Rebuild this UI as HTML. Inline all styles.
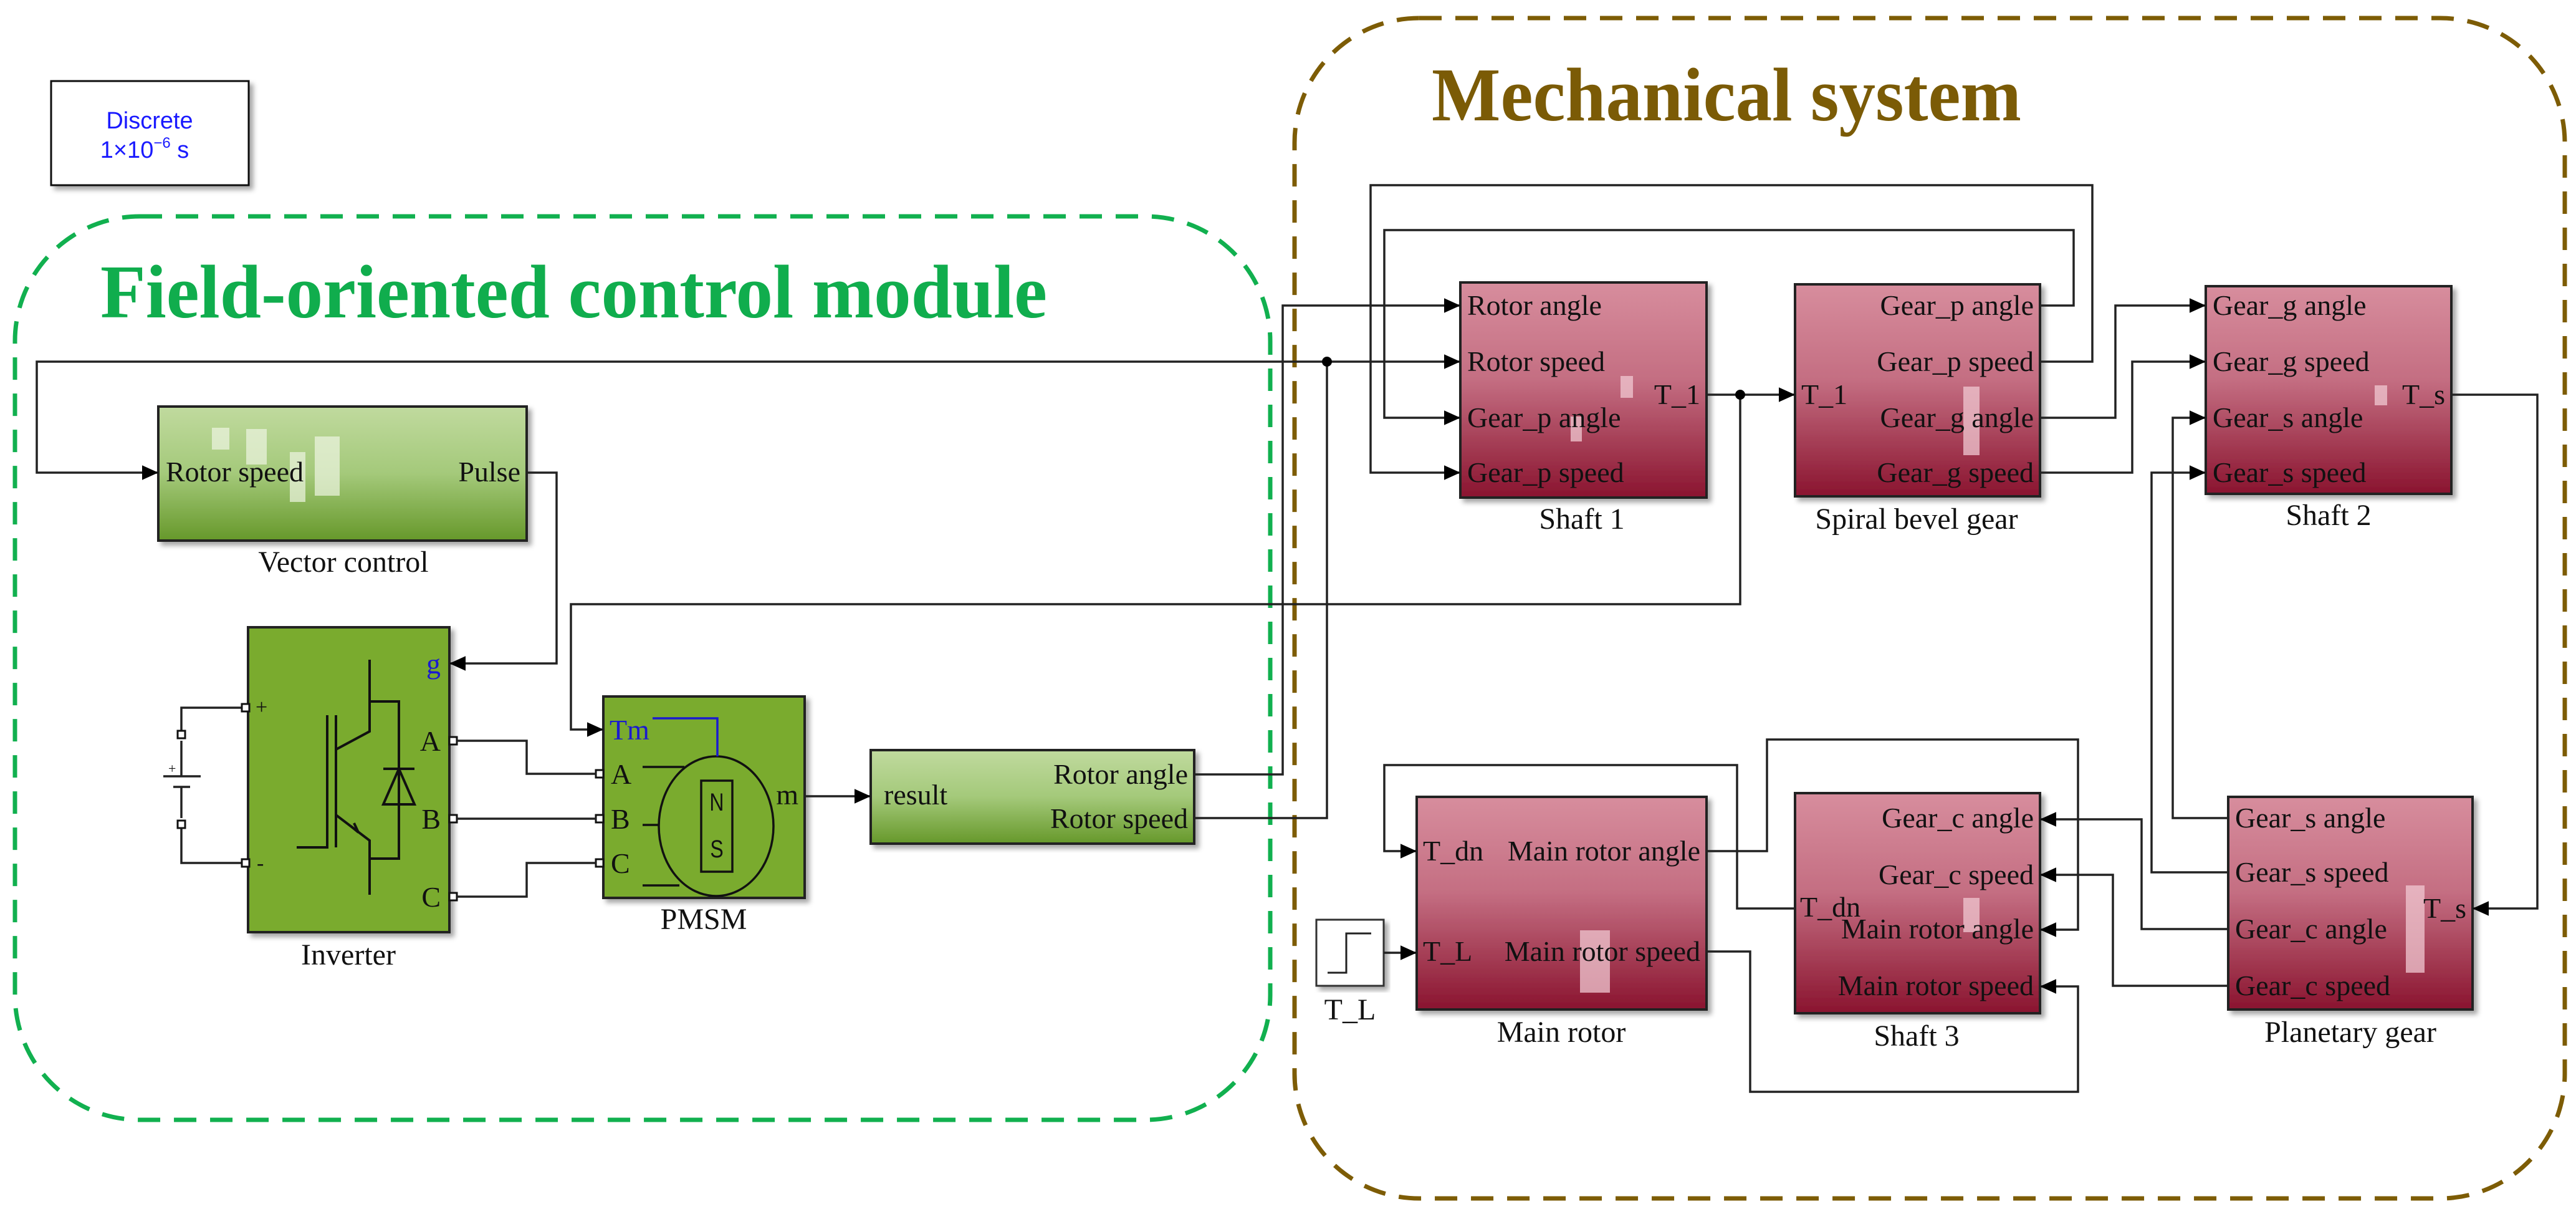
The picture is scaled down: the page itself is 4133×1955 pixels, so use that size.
<!DOCTYPE html>
<html><head><meta charset="utf-8"><style>
html,body{margin:0;padding:0;background:#fff;}
svg{display:block;}
.t{font-family:"Liberation Serif",serif;fill:#111;}
.w{fill:none;stroke:#222;stroke-width:3.5;}
</style></head><body>
<svg width="4133" height="1955" viewBox="0 0 4133 1955" xmlns="http://www.w3.org/2000/svg">
<defs>
<linearGradient id="red" x1="0" y1="0" x2="0" y2="1">
<stop offset="0" stop-color="#d78d9d"/><stop offset="0.45" stop-color="#c46e82"/><stop offset="1" stop-color="#8a142f"/></linearGradient>
<linearGradient id="grn" x1="0" y1="0" x2="0" y2="1">
<stop offset="0" stop-color="#c0da9e"/><stop offset="0.5" stop-color="#a4c97a"/><stop offset="1" stop-color="#66982a"/></linearGradient>
<marker id="a" viewBox="0 0 10 10" refX="10" refY="5" markerWidth="26" markerHeight="26" orient="auto" markerUnits="userSpaceOnUse">
<path d="M0,0.5 L10,5 L0,9.5 z" fill="#000"/></marker>
<filter id="sh" x="-5%" y="-5%" width="115%" height="115%"><feDropShadow dx="6" dy="6" stdDeviation="4" flood-color="#000" flood-opacity="0.35"/></filter>
</defs>

<!-- Discrete -->
<rect x="82" y="130" width="317" height="167" fill="#fff" stroke="#111" stroke-width="3" filter="url(#sh)"/>
<text x="240" y="206" font-family="Liberation Sans,sans-serif" font-size="38" fill="#1a1aff" text-anchor="middle">Discrete</text>
<text x="232" y="253" font-family="Liberation Sans,sans-serif" font-size="38" fill="#1a1aff" text-anchor="middle">1×10<tspan font-size="24" dy="-16">−6</tspan><tspan dy="16"> s</tspan></text>

<!-- dashed containers -->
<rect x="24" y="347" width="2014" height="1449" rx="200" fill="none" stroke="#11b04f" stroke-width="7" stroke-dasharray="36,22"/>
<rect x="2077" y="29" width="2038" height="1893" rx="200" fill="none" stroke="#7d5c05" stroke-width="7" stroke-dasharray="36,22"/>
<text x="161" y="509" font-family="Liberation Serif,serif" font-weight="bold" font-size="122" fill="#10ad4d" textLength="1519" lengthAdjust="spacingAndGlyphs">Field-oriented control module</text>
<text x="2297" y="193" font-family="Liberation Serif,serif" font-weight="bold" font-size="122" fill="#7b5b06" textLength="946" lengthAdjust="spacingAndGlyphs">Mechanical system</text>

<!-- blocks -->
<rect x="254" y="652" width="591" height="215" fill="url(#grn)" stroke="#222" stroke-width="4" filter="url(#sh)"/>
<g fill="#eef5e2" opacity="0.7"><rect x="340" y="686" width="28" height="35"/><rect x="395" y="688" width="33" height="57"/><rect x="465" y="725" width="25" height="80"/><rect x="505" y="700" width="40" height="95"/></g>
<rect x="398" y="1006" width="323" height="489" fill="#7aab2e" stroke="#222" stroke-width="4" filter="url(#sh)"/>
<rect x="968" y="1117" width="323" height="323" fill="#7aab2e" stroke="#222" stroke-width="4" filter="url(#sh)"/>
<rect x="1397" y="1203" width="519" height="150" fill="url(#grn)" stroke="#222" stroke-width="4" filter="url(#sh)"/>

<rect x="2343" y="453" width="395" height="345" fill="url(#red)" stroke="#222" stroke-width="4" filter="url(#sh)"/>
<rect x="2880" y="456" width="393" height="340" fill="url(#red)" stroke="#222" stroke-width="4" filter="url(#sh)"/>
<rect x="3539" y="459" width="394" height="333" fill="url(#red)" stroke="#222" stroke-width="4" filter="url(#sh)"/>
<rect x="2273" y="1278" width="465" height="341" fill="url(#red)" stroke="#222" stroke-width="4" filter="url(#sh)"/>
<rect x="2880" y="1272" width="393" height="353" fill="url(#red)" stroke="#222" stroke-width="4" filter="url(#sh)"/>
<rect x="3575" y="1278" width="392" height="341" fill="url(#red)" stroke="#222" stroke-width="4" filter="url(#sh)"/>
<g fill="#f0c8d2" opacity="0.75">
<rect x="2600" y="603" width="20" height="35"/><rect x="2520" y="668" width="18" height="40"/>
<rect x="3150" y="620" width="26" height="110"/>
<rect x="3810" y="618" width="20" height="32"/><rect x="2535" y="1492" width="48" height="100"/><rect x="3150" y="1440" width="26" height="55"/><rect x="3860" y="1420" width="30" height="140"/>
</g>
<rect x="2112" y="1475" width="108" height="106" fill="#fff" stroke="#333" stroke-width="3" filter="url(#sh)"/>
<path d="M2130,1560 H2160 V1497 H2200" fill="none" stroke="#222" stroke-width="3"/>

<!-- inverter internals -->
<g fill="none" stroke="#111" stroke-width="4">
<path d="M593,1058 V1173 L539,1202"/><path d="M593,1125 H640 V1377 H593"/><path d="M539,1307 L593,1348 V1435"/>
<path d="M525,1147 V1359 H476"/><path d="M539,1147 V1359"/>
<path d="M615,1233 H665"/><path d="M640,1233 L615,1290 H665 Z"/>
<path d="M563,1325 L575,1335 L568,1320"/>
</g>
<!-- battery -->
<g fill="none" stroke="#222" stroke-width="3.5">
<path d="M291,1178 V1135 H391"/><path d="M291,1322 V1384 H391"/>
<path d="M291,1188 V1245 M262,1245 H322 M278,1262 H305 M291,1262 V1312"/>
</g>
<g fill="#fff" stroke="#111" stroke-width="3"><rect x="285" y="1172" width="12" height="12"/><rect x="285" y="1316" width="12" height="12"/>
<rect x="388" y="1129" width="12" height="12"/><rect x="388" y="1378" width="12" height="12"/>
<rect x="721" y="1182" width="12" height="12"/><rect x="721" y="1307" width="12" height="12"/><rect x="721" y="1432" width="12" height="12"/>
<rect x="956" y="1235" width="12" height="12"/><rect x="956" y="1307" width="12" height="12"/><rect x="956" y="1378" width="12" height="12"/></g>
<text class="t" x="410" y="1145" font-size="34">+</text><text class="t" x="412" y="1395" font-size="34">-</text>
<text class="t" x="270" y="1240" font-size="22">+</text>
<!-- PMSM internals -->
<ellipse cx="1149" cy="1325" rx="92" ry="112" fill="none" stroke="#111" stroke-width="3.5"/>
<rect x="1125" y="1252" width="50" height="146" fill="none" stroke="#111" stroke-width="3.5"/>
<text x="1150" y="1300" font-size="40" text-anchor="middle" font-family="Liberation Sans,sans-serif" fill="#111" transform="translate(1150,0) scale(0.8,1) translate(-1150,0)">N</text>
<text x="1150" y="1375" font-size="40" text-anchor="middle" font-family="Liberation Sans,sans-serif" fill="#111" transform="translate(1150,0) scale(0.8,1) translate(-1150,0)">S</text>
<path d="M1047,1152 H1151 V1213" fill="none" stroke="#1a1ad0" stroke-width="3.5"/>
<path d="M1031,1230 H1098 M1031,1323 H1056 M1031,1420 H1090" fill="none" stroke="#111" stroke-width="3.5"/>

<!-- wires -->
<g class="w">
<path d="M2129,580 H59 V758 H254" marker-end="url(#a)"/>
<path d="M845,758 H893 V1064 H721" marker-end="url(#a)"/>
<path d="M733,1188 H845 V1241 H956"/>
<path d="M733,1313 H956"/>
<path d="M733,1438 H845 V1384 H956"/>
<path d="M2792,633 V969 H916 V1170 H968" marker-end="url(#a)"/>
<path d="M1291,1277 H1397" marker-end="url(#a)"/>
<path d="M1916,1242 H2058 V490 H2343" marker-end="url(#a)"/>
<path d="M1916,1312 H2129 V580 H2343" marker-end="url(#a)"/>
<path d="M3273,580 H3357 V297 H2199 V758 H2343" marker-end="url(#a)"/>
<path d="M3273,490 H3327 V369 H2221 V670 H2343" marker-end="url(#a)"/>
<path d="M2738,633 H2880" marker-end="url(#a)"/>
<path d="M3273,670 H3394 V490 H3539" marker-end="url(#a)"/>
<path d="M3273,758 H3421 V580 H3539" marker-end="url(#a)"/>
<path d="M3933,633 H4071 V1457 H3967" marker-end="url(#a)"/>
<path d="M3575,1312 H3486 V670 H3539" marker-end="url(#a)"/>
<path d="M3575,1399 H3452 V758 H3539" marker-end="url(#a)"/>
<path d="M3575,1490 H3436 V1314 H3273" marker-end="url(#a)"/>
<path d="M3575,1581 H3390 V1403 H3273" marker-end="url(#a)"/>
<path d="M2738,1365 H2835 V1186 H3334 V1491 H3273" marker-end="url(#a)"/>
<path d="M2738,1526 H2808 V1751 H3334 V1582 H3273" marker-end="url(#a)"/>
<path d="M2880,1457 H2787 V1227 H2221 V1365 H2273" marker-end="url(#a)"/>
<path d="M2220,1528 H2273" marker-end="url(#a)"/>
</g>
<circle cx="2129" cy="580" r="8" fill="#000"/>
<circle cx="2792" cy="633" r="8" fill="#000"/>

<!-- port text -->
<g class="t" font-size="46">
<text x="266" y="772">Rotor speed</text>
<text x="835" y="772" text-anchor="end">Pulse</text>
<text x="551" y="917" text-anchor="middle" font-size="48">Vector control</text>
<text x="707" y="1080" text-anchor="end" fill="#1a1ad0">g</text>
<text x="707" y="1204" text-anchor="end">A</text>
<text x="707" y="1329" text-anchor="end">B</text>
<text x="707" y="1454" text-anchor="end">C</text>
<text x="559" y="1547" text-anchor="middle" font-size="48">Inverter</text>
<text x="978" y="1186" fill="#1a1ad0">Tm</text>
<text x="980" y="1257">A</text><text x="980" y="1329">B</text><text x="980" y="1400">C</text>
<text x="1281" y="1290" text-anchor="end">m</text>
<text x="1129" y="1490" text-anchor="middle" font-size="48">PMSM</text>
<text x="1418" y="1290">result</text>
<text x="1906" y="1257" text-anchor="end">Rotor angle</text>
<text x="1906" y="1328" text-anchor="end">Rotor speed</text>

<text x="2354" y="505">Rotor angle</text>
<text x="2354" y="595">Rotor speed</text>
<text x="2354" y="685">Gear_p angle</text>
<text x="2354" y="773">Gear_p speed</text>
<text x="2728" y="648" text-anchor="end">T_1</text>
<text x="2538" y="848" text-anchor="middle" font-size="48">Shaft 1</text>
<text x="2890" y="648">T_1</text>
<text x="3263" y="505" text-anchor="end">Gear_p angle</text>
<text x="3263" y="595" text-anchor="end">Gear_p speed</text>
<text x="3263" y="685" text-anchor="end">Gear_g angle</text>
<text x="3263" y="773" text-anchor="end">Gear_g speed</text>
<text x="3075" y="848" text-anchor="middle" font-size="48">Spiral bevel gear</text>
<text x="3550" y="505">Gear_g angle</text>
<text x="3550" y="595">Gear_g speed</text>
<text x="3550" y="685">Gear_s angle</text>
<text x="3550" y="773">Gear_s speed</text>
<text x="3923" y="648" text-anchor="end">T_s</text>
<text x="3736" y="842" text-anchor="middle" font-size="48">Shaft 2</text>

<text x="2283" y="1380">T_dn</text>
<text x="2283" y="1541">T_L</text>
<text x="2728" y="1380" text-anchor="end">Main rotor angle</text>
<text x="2728" y="1541" text-anchor="end">Main rotor speed</text>
<text x="2505" y="1671" text-anchor="middle" font-size="48">Main rotor</text>
<text x="2166" y="1635" text-anchor="middle" font-size="48">T_L</text>
<text x="3263" y="1327" text-anchor="end">Gear_c angle</text>
<text x="3263" y="1418" text-anchor="end">Gear_c speed</text>
<text x="2888" y="1470">T_dn</text>
<text x="3263" y="1505" text-anchor="end">Main rotor angle</text>
<text x="3263" y="1596" text-anchor="end">Main rotor speed</text>
<text x="3075" y="1677" text-anchor="middle" font-size="48">Shaft 3</text>
<text x="3586" y="1327">Gear_s angle</text>
<text x="3586" y="1414">Gear_s speed</text>
<text x="3586" y="1505">Gear_c angle</text>
<text x="3586" y="1596">Gear_c speed</text>
<text x="3957" y="1472" text-anchor="end">T_s</text>
<text x="3771" y="1671" text-anchor="middle" font-size="48">Planetary gear</text>
</g>
</svg>
</body></html>
